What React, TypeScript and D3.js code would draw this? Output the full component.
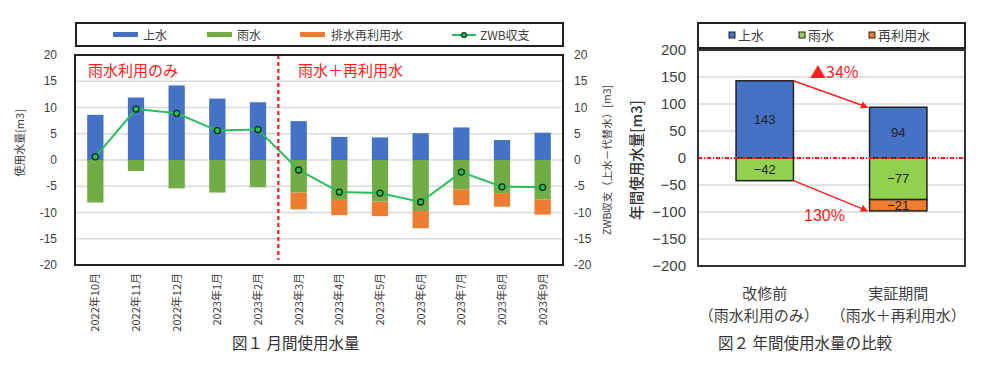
import * as d3 from "d3";

// 図1 月間使用水量
const months = [
  "2022年10月", "2022年11月", "2022年12月", "2023年1月", "2023年2月", "2023年3月",
  "2023年4月", "2023年5月", "2023年6月", "2023年7月", "2023年8月", "2023年9月",
];
const tapWater = [8.6, 11.9, 14.2, 11.7, 11.0, 7.4, 4.4, 4.3, 5.1, 6.2, 3.8, 5.2];
const rainWater = [-8.1, -2.1, -5.4, -6.2, -5.2, -6.2, -7.6, -7.9, -9.7, -5.6, -6.3, -7.5];
const reuseWater = [0, 0, 0, 0, 0, -3.2, -2.9, -2.8, -3.3, -3.0, -2.6, -2.9];
const zwbBalance = [0.6, 9.7, 8.9, 5.6, 5.8, -1.9, -6.1, -6.3, -8.0, -2.3, -5.1, -5.2];
const monthTicks = [20, 15, 10, 5, 0, -5, -10, -15, -20];

// 図2 年間使用水量の比較
const periods = ["改修前", "実証期間"];
const periodSub = ["（雨水利用のみ）", "（雨水＋再利用水）"];
const annualTap = [143, 94];
const annualRain = [-42, -77];
const annualReuse = [0, -21];
const annualTicks = [200, 150, 100, 50, 0, -50, -100, -150, -200];

const BLUE = "#4472c4";
const GREEN = "#70ad47";
const ORANGE = "#ed7d31";
const LIGHT_GREEN = "#92d050";
const LINE = "#2bbd5c";
const TXT = "#404040";
const JP = "'Noto Sans CJK JP', 'Liberation Sans', sans-serif";
const NUM = "'Liberation Sans', Arial, sans-serif";
const NARROW = "'Liberation Sans Narrow', 'Liberation Sans', sans-serif";

function MonthlyChart() {
  const left = 75, right = 563, top = 55, bottom = 265;
  const x = d3.scaleBand().domain(months).range([left, right]).paddingInner(0.6).paddingOuter(0.3);
  const y = d3.scaleLinear().domain([-20, 20]).range([bottom, top]);
  const bw = x.bandwidth();
  const line = d3.line<number>()
    .x((_, i) => x(months[i])! + bw / 2)
    .y(d => y(d));
  const splitX = (x(months[4])! + bw + x(months[5])!) / 2;

  return (
    <g>
      {/* legend */}
      <rect x={76} y={23} width={487} height={23} fill="#fff" stroke="#222" strokeWidth={2} />
      <rect x={113} y={32} width={25} height={5} fill={BLUE} />
      <text x={143} y={40} fontSize={12} fill={TXT} fontFamily={JP}>上水</text>
      <rect x={207} y={32} width={25} height={5} fill={GREEN} />
      <text x={237} y={40} fontSize={12} fill={TXT} fontFamily={JP}>雨水</text>
      <rect x={300} y={32} width={25} height={5} fill={ORANGE} />
      <text x={331} y={40} fontSize={12} fill={TXT} fontFamily={JP}>排水再利用水</text>
      <line x1={452} x2={476} y1={35} y2={35} stroke={LINE} strokeWidth={2} />
      <circle cx={464} cy={35} r={2.5} fill={LINE} stroke="#113311" strokeWidth={1.2} />
      <text x={480} y={40} fontSize={12} fill={TXT} fontFamily={JP}>ZWB収支</text>

      {/* grid */}
      {monthTicks.map(t => (
        <line key={t} x1={left} x2={right} y1={y(t)} y2={y(t)} stroke="#d9d9d9" strokeWidth={1.5} />
      ))}

      {/* bars */}
      {months.map((m, i) => (
        <g key={m}>
          <rect x={x(m)} y={y(tapWater[i])} width={bw} height={y(0) - y(tapWater[i])} fill={BLUE} />
          <rect x={x(m)} y={y(0)} width={bw} height={y(rainWater[i]) - y(0)} fill={GREEN} />
          {reuseWater[i] !== 0 && (
            <rect x={x(m)} y={y(rainWater[i])} width={bw}
              height={y(rainWater[i] + reuseWater[i]) - y(rainWater[i])} fill={ORANGE} />
          )}
        </g>
      ))}

      {/* ZWB line */}
      <path d={line(zwbBalance) ?? ""} fill="none" stroke={LINE} strokeWidth={2} />
      {zwbBalance.map((v, i) => (
        <circle key={i} cx={x(months[i])! + bw / 2} cy={y(v)} r={3} fill={LINE} stroke="#103010" strokeWidth={1.3} />
      ))}

      {/* divider */}
      <line x1={splitX} x2={splitX} y1={top} y2={260} stroke="#ff1a1a" strokeWidth={2.2} strokeDasharray="4 3" />
      <text x={88} y={76} fontSize={15} fill="#ff2020" fontFamily={JP}>雨水利用のみ</text>
      <text x={298} y={76} fontSize={15} fill="#ff2020" fontFamily={JP}>雨水＋再利用水</text>

      {/* frame */}
      <rect x={left} y={top} width={right - left} height={bottom - top} fill="none" stroke="#222" strokeWidth={2} />

      {/* axes */}
      {monthTicks.map(t => (
        <g key={t}>
          <text x={57} y={y(t)} dy="0.35em" textAnchor="end" fontSize={12} fill={TXT} fontFamily={NUM}>{t}</text>
          <text x={574} y={y(t)} dy="0.35em" textAnchor="start" fontSize={12} fill={TXT} fontFamily={NUM}>{t}</text>
        </g>
      ))}
      <text transform={`translate(24,${143}) rotate(-90)`} textAnchor="middle" fontSize={11} fill={TXT} fontFamily={JP}>
        使用水量[m3]
      </text>
      <text transform={`translate(611,${160}) rotate(-90)`} textAnchor="middle" fontSize={10.5} fill={TXT} fontFamily={JP}>
        ZWB収支（上水－代替水）[m3]
      </text>
      {months.map(m => (
        <text key={m} transform={`translate(${x(m)! + bw / 2 + 4},273) rotate(-90)`} textAnchor="end"
          fontSize={11} fill={TXT} fontFamily={JP}>{m}</text>
      ))}

      <text x={232} y={349} fontSize={15.5} fill="#333" fontFamily={JP}>図１ 月間使用水量</text>
    </g>
  );
}

function AnnualChart() {
  const left = 698, right = 965, top = 50, bottom = 266;
  const x = d3.scaleBand().domain(periods).range([left, right]).paddingInner(0.57).paddingOuter(0.285);
  const y = d3.scaleLinear().domain([-200, 200]).range([bottom, top]);
  const bw = x.bandwidth();
  const x0 = x(periods[0])!, x1 = x(periods[1])!;

  const segs = periods.flatMap((p, i) => {
    const out = [{ p, y0: 0, y1: annualTap[i], c: BLUE, v: annualTap[i] }];
    out.push({ p, y0: 0, y1: annualRain[i], c: LIGHT_GREEN, v: annualRain[i] });
    if (annualReuse[i] !== 0) {
      out.push({ p, y0: annualRain[i], y1: annualRain[i] + annualReuse[i], c: ORANGE, v: annualReuse[i] });
    }
    return out;
  });

  return (
    <g>
      <defs>
        <marker id="arr" viewBox="0 0 10 10" refX="9" refY="5" markerWidth="5" markerHeight="5" orient="auto">
          <path d="M0,0 L10,5 L0,10 z" fill="#ff2020" />
        </marker>
      </defs>
      {/* legend */}
      <rect x={698} y={23} width={267} height={25} fill="#fff" stroke="#222" strokeWidth={2} />
      {[["上水", BLUE, 730], ["雨水", LIGHT_GREEN, 800], ["再利用水", ORANGE, 870]].map(([t, c, lx]) => (
        <g key={t as string}>
          <rect x={(lx as number) - 1} y={32} width={6} height={6} fill={c as string} stroke="#222" strokeWidth={1} />
          <text x={(lx as number) + 8} y={40} fontSize={13} fill={TXT} fontFamily={JP}>{t}</text>
        </g>
      ))}

      {annualTicks.map(t => (
        <line key={t} x1={left} x2={right} y1={y(t)} y2={y(t)} stroke="#d9d9d9" strokeWidth={1.5} />
      ))}

      {segs.map((s, i) => (
        <g key={i}>
          <rect x={x(s.p)} y={y(Math.max(s.y0, s.y1))} width={bw} height={Math.abs(y(s.y1) - y(s.y0))}
            fill={s.c} stroke="#222" strokeWidth={1.5} />
          <text x={x(s.p)! + bw / 2} y={y((s.y0 + s.y1) / 2)} dy="0.35em" textAnchor="middle"
            fontSize={13} fill="#222" fontFamily={NARROW}>{s.v < 0 ? `−${-s.v}` : s.v}</text>
        </g>
      ))}

      <line x1={left} x2={right} y1={y(0)} y2={y(0)} stroke="#ff1a1a" strokeWidth={1.8} strokeDasharray="4 2 1 2" />

      {/* arrows */}
      <line x1={x0 + bw} y1={y(annualTap[0])} x2={x1 - 2} y2={y(annualTap[1])} stroke="#ff2020" strokeWidth={1.5} markerEnd="url(#arr)" />
      <line x1={x0 + bw} y1={y(annualRain[0])} x2={x1 - 2} y2={y(annualRain[1] + annualReuse[1])} stroke="#ff2020" strokeWidth={1.5} markerEnd="url(#arr)" />
      <text x={810} y={78} fontSize={16} fill="#ff2020" fontFamily={JP}>▲34%</text>
      <text x={804} y={221} fontSize={16} fill="#ff2020" fontFamily={NUM}>130%</text>

      <rect x={left} y={top} width={right - left} height={bottom - top} fill="none" stroke="#333" strokeWidth={2} />

      {annualTicks.map(t => (
        <text key={t} x={686} y={y(t)} dy="0.35em" textAnchor="end" fontSize={15} fill={TXT} fontFamily={NARROW}>
          {t < 0 ? `−${-t}` : t}
        </text>
      ))}
      <text transform={`translate(642,160) rotate(-90)`} textAnchor="middle" fontSize={14.5} fontWeight={500} fill="#333" fontFamily={JP}>
        年間使用水量[m3]
      </text>

      {periods.map((p, i) => (
        <g key={p}>
          <text x={x(p)! + bw / 2} y={299} textAnchor="middle" fontSize={15} fill={TXT} fontFamily={JP}>{p}</text>
          <text x={x(p)! + bw / 2 + (i === 0 ? -6 : 0)} y={321} textAnchor="middle" fontSize={15} fill={TXT} fontFamily={JP}>{periodSub[i]}</text>
        </g>
      ))}
      <text x={718} y={349} fontSize={15.5} fill="#333" fontFamily={JP}>図２ 年間使用水量の比較</text>
    </g>
  );
}

export default function App() {
  return (
    <svg width={1006} height={373} style={{ position: "absolute", left: 0, top: 0, background: "#fff" }}>
      <rect width={1006} height={373} fill="#fff" />
      <MonthlyChart />
      <AnnualChart />
    </svg>
  );
}
